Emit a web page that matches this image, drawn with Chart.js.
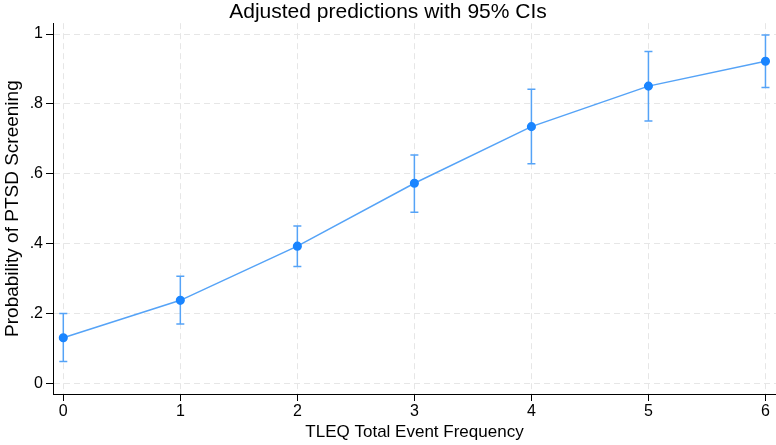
<!DOCTYPE html>
<html>
<head>
<meta charset="utf-8">
<script src="https://cdn.jsdelivr.net/npm/chart.js@4"></script>
<style>
  body { margin: 0; background: #fff; }
  #wrap { width: 776px; height: 445px; }
</style>
</head>
<body>
<div id="wrap"><canvas id="chart"></canvas></div>
<script>
'use strict';

// values
let eventFreq = [0, 1, 2, 3, 4, 5, 6];
let predicted = [0.131, 0.238, 0.393, 0.573, 0.735, 0.851, 0.922];
let ciLow = [0.063, 0.170, 0.335, 0.490, 0.629, 0.751, 0.847];
let ciHigh = [0.200, 0.307, 0.451, 0.654, 0.842, 0.950, 0.997];
let yTickValues = [0, 0.2, 0.4, 0.6, 0.8, 1];
let yTickLabels = ['0', '.2', '.4', '.6', '.8', '1'];
let xTickValues = [0, 1, 2, 3, 4, 5, 6];

let canvasElem = document.getElementById('chart');
let blue = '#1a85ff';
let lineBlue = '#55a3f7';
let gridGray = '#e6e6e6';
let fontFam = '"Liberation Sans", Arial, Helvetica, sans-serif';

// Chart.js has no error bars, draw the CI whiskers from the scales
let errorBars = {
  id: 'errorBars',
  beforeDatasetsDraw(chart) {
    let ctx = chart.ctx;
    let xs = chart.scales.x;
    let ys = chart.scales.y;
    ctx.save();
    ctx.strokeStyle = lineBlue;
    ctx.lineWidth = 1.5;
    for (let i = 0; i < eventFreq.length; i++) {
      let px = xs.getPixelForValue(eventFreq[i]);
      let top = ys.getPixelForValue(ciHigh[i]);
      let bot = ys.getPixelForValue(ciLow[i]);
      ctx.beginPath();
      ctx.moveTo(px, top);
      ctx.lineTo(px, bot);
      ctx.moveTo(px - 4, top);
      ctx.lineTo(px + 4, top);
      ctx.moveTo(px - 4, bot);
      ctx.lineTo(px + 4, bot);
      ctx.stroke();
    }
    ctx.restore();
  }
};

let points = eventFreq.map((v, i) => ({ x: v, y: predicted[i] }));

let chartObj = {
  type: 'line',
  data: {
    datasets: [{
      label: 'Predicted',
      data: points,
      borderColor: lineBlue,
      borderWidth: 1.5,
      backgroundColor: blue,
      pointBackgroundColor: blue,
      pointBorderColor: blue,
      pointRadius: 3.8,
      tension: 0,
      clip: false
    }]
  },
  options: {
    responsive: true,
    maintainAspectRatio: false,
    animation: false,
    layout: { padding: 0, autoPadding: false },
    scales: {
      x: {
        type: 'linear',
        min: -0.088,
        max: 6.09,
        afterBuildTicks: (scale) => { scale.ticks = xTickValues.map(v => ({ value: v })); },
        afterFit: (scale) => {
          scale.height = 51;
          scale.paddingLeft = 0;
          scale.paddingRight = 0;
        },
        ticks: {
          color: '#000',
          padding: 1,
          maxRotation: 0,
          font: { family: fontFam, size: 16 },
          callback: (v) => String(v)
        },
        grid: {
          color: gridGray,
          lineWidth: 1,
          tickLength: 7,
          tickColor: '#000',
          tickWidth: 1,
          tickBorderDash: []
        },
        border: { display: true, color: '#000', width: 1, dash: [6, 4] },
        title: {
          display: true,
          text: 'TLEQ Total Event Frequency',
          color: '#000',
          font: { family: fontFam, size: 17 },
          padding: { top: 0, bottom: 2 }
        }
      },
      y: {
        min: -0.03,
        max: 1.031,
        afterBuildTicks: (scale) => { scale.ticks = yTickValues.map(v => ({ value: v })); },
        afterFit: (scale) => {
          scale.width = 53;
          scale.paddingTop = 0;
          scale.paddingBottom = 0;
        },
        ticks: {
          color: '#000',
          padding: 3,
          font: { family: fontFam, size: 16 },
          callback: (v) => yTickLabels[yTickValues.indexOf(Math.round(v * 10) / 10)]
        },
        grid: {
          color: gridGray,
          lineWidth: 1,
          tickLength: 7,
          tickColor: '#000',
          tickWidth: 1,
          tickBorderDash: []
        },
        border: { display: true, color: '#000', width: 1, dash: [6, 4] },
        title: {
          display: true,
          text: 'Probability of PTSD Screening',
          color: '#000',
          font: { family: fontFam, size: 19 },
          padding: { top: 1, bottom: 0 }
        }
      }
    },
    plugins: {
      legend: { display: false },
      tooltip: { enabled: false },
      title: {
        display: true,
        text: 'Adjusted predictions with 95% CIs',
        color: '#000',
        font: { family: fontFam, size: 21, weight: 'normal' },
        padding: { top: 0, bottom: -2 }
      }
    }
  },
  plugins: [errorBars]
};

new Chart(canvasElem, chartObj); //eslint-disable-line
</script>
</body>
</html>
